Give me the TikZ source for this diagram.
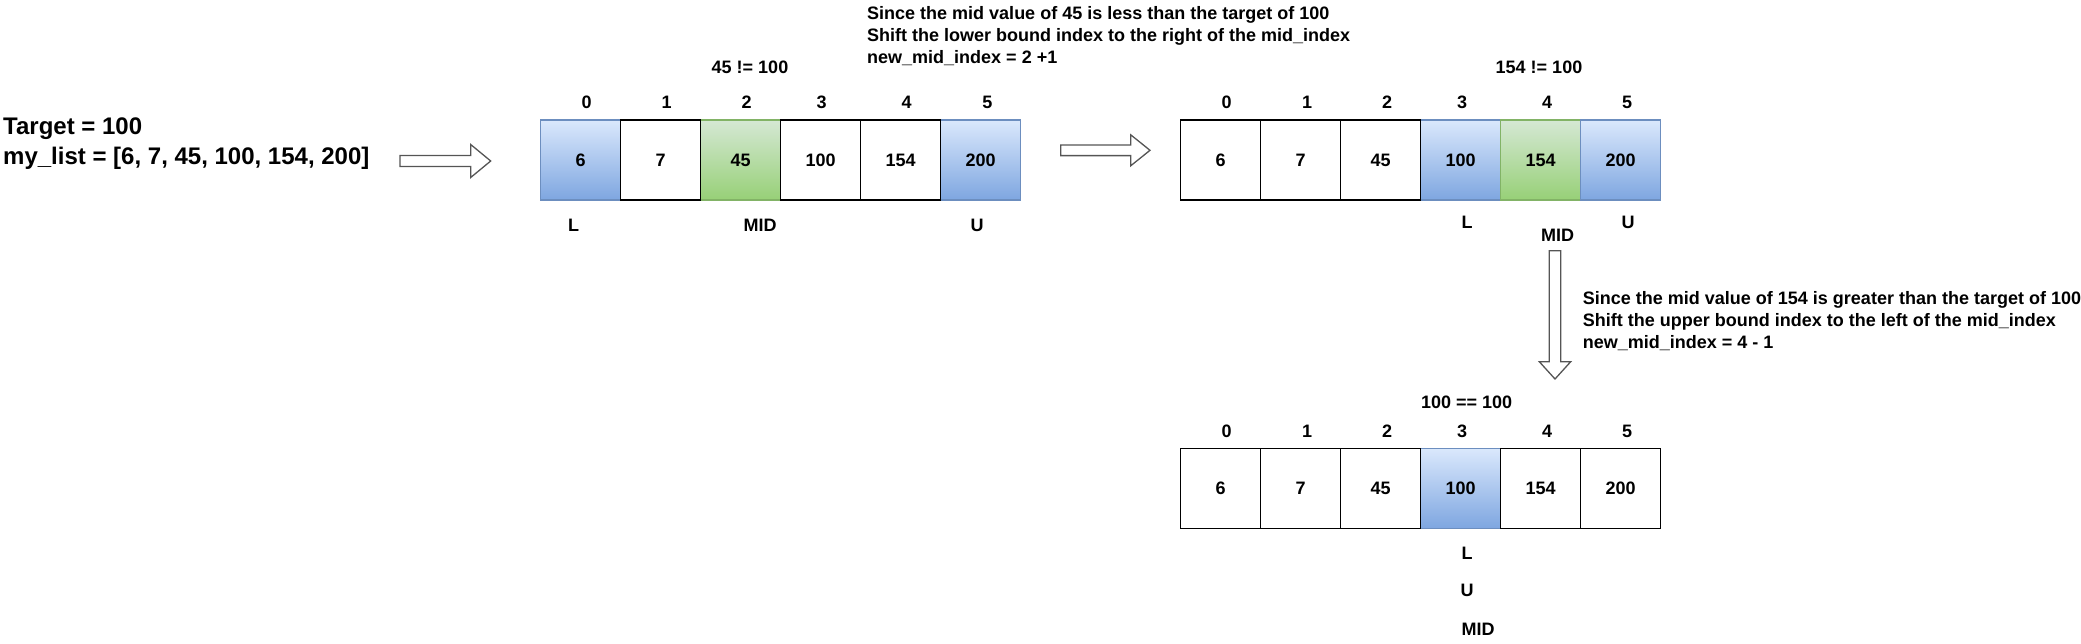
\documentclass[tikz,border=0pt]{standalone}
\usepackage{fontspec}
\setmainfont{Liberation Sans}
\definecolor{blueT}{HTML}{DAE8FC}
\definecolor{blueB}{HTML}{7EA6E0}
\definecolor{blueS}{HTML}{6C8EBF}
\definecolor{greenT}{HTML}{D5E8D4}
\definecolor{greenB}{HTML}{97D077}
\definecolor{greenS}{HTML}{82B366}
\definecolor{arrowS}{HTML}{555555}
\newcommand\FSm{\fontsize{18}{21.6}\selectfont\bfseries}
\newcommand\FBig{\fontsize{24}{29.8}\selectfont\bfseries}
\tikzset{
  cellw/.style={draw=black, fill=white, line width=1.3pt, minimum width=80pt, minimum height=80pt, inner sep=0pt, outer sep=0pt, font=\FSm},
  cellg/.style={cellw, draw=greenS, top color=greenT, bottom color=greenB},
  cellb/.style={cellw, draw=blueS, top color=blueT, bottom color=blueB},
  lbl/.style={inner sep=0pt, font=\FSm},
  note/.style={inner sep=0pt, font=\FSm, align=left, anchor=west},
  barrow/.style={draw=arrowS, fill=white, line width=1.3pt, line join=miter}
}
\begin{document}
\begin{tikzpicture}[x=1pt,y=-1pt]
\useasboundingbox (0,0) rectangle (2081,643);

% intro text
\node[inner sep=0pt, font=\FBig, align=left, anchor=west] (intro) at (3,144) {Target = 100\\my\_list = [6, 7, 45, 100, 154, 200]};

% arrow 1
\coordinate (a1s) at (400,161);
\coordinate (a1e) at (490.7,161);
\draw[barrow] ([yshift=-5.5pt]a1s) -- ([xshift=-20pt,yshift=-5.5pt]a1e) -- ([xshift=-20pt,yshift=-16.5pt]a1e) -- (a1e) -- ([xshift=-20pt,yshift=16.5pt]a1e) -- ([xshift=-20pt,yshift=5.5pt]a1e) -- ([yshift=5.5pt]a1s) -- cycle;

% ---------- array 1 ----------
\node[cellb] (p0) at (580.7,160) {6};
\node[cellg] (p2) at (740.7,160) {45};
\node[cellb] (p5) at (980.7,160) {200};
\node[cellw] (p1) at (660.7,160) {7};
\node[cellw] (p3) at (820.7,160) {100};
\node[cellw] (p4) at (900.7,160) {154};
\node[lbl] (pi0) at (586.7,102.5) {0};
\node[lbl] (pi1) at (666.7,102.5) {1};
\node[lbl] (pi2) at (746.7,102.5) {2};
\node[lbl] (pi3) at (821.7,102.5) {3};
\node[lbl] (pi4) at (906.7,102.5) {4};
\node[lbl] (pi5) at (987.3,102.5) {5};
\node[lbl] (pcmp) at (750,67) {45 != 100};
\node[lbl] (pL) at (573.5,225) {L};
\node[lbl] (pM) at (760,225) {MID};
\node[lbl] (pU) at (977,225) {U};

% note 1
\node[note] (n1) at (867,36) {Since the mid value of 45 is less than the target of 100\\Shift the lower bound index to the right of the mid\_index\\new\_mid\_index = 2 +1};

% arrow 2
\coordinate (a2s) at (1060.7,150.3);
\coordinate (a2e) at (1150,150.3);
\draw[barrow] ([yshift=-5.3pt]a2s) -- ([xshift=-19.3pt,yshift=-5.3pt]a2e) -- ([xshift=-19.3pt,yshift=-15.5pt]a2e) -- (a2e) -- ([xshift=-19.3pt,yshift=15.5pt]a2e) -- ([xshift=-19.3pt,yshift=5.3pt]a2e) -- ([yshift=5.3pt]a2s) -- cycle;

% ---------- array 2 ----------
\node[cellb] (q3) at (1460.7,160) {100};
\node[cellg] (q4) at (1540.7,160) {154};
\node[cellb] (q5) at (1620.7,160) {200};
\node[cellw] (q0) at (1220.7,160) {6};
\node[cellw] (q1) at (1300.7,160) {7};
\node[cellw] (q2) at (1380.7,160) {45};
\node[lbl] (qi0) at (1226.7,102.5) {0};
\node[lbl] (qi1) at (1307,102.5) {1};
\node[lbl] (qi2) at (1387,102.5) {2};
\node[lbl] (qi3) at (1462,102.5) {3};
\node[lbl] (qi4) at (1547,102.5) {4};
\node[lbl] (qi5) at (1627,102.5) {5};
\node[lbl] (qcmp) at (1539,67) {154 != 100};
\node[lbl] (qL) at (1467,222.5) {L};
\node[lbl] (qM) at (1557.7,235) {MID};
\node[lbl] (qU) at (1628,222.5) {U};

% down arrow (yshift is in page direction: positive = up)
\coordinate (a3s) at (1555,250.7);
\coordinate (a3e) at (1555,379);
\draw[barrow] ([xshift=-5.8pt]a3s) -- ([xshift=5.8pt]a3s) -- ([xshift=5.8pt,yshift=17.3pt]a3e) -- ([xshift=15.7pt,yshift=17.3pt]a3e) -- (a3e) -- ([xshift=-15.7pt,yshift=17.3pt]a3e) -- ([xshift=-5.8pt,yshift=17.3pt]a3e) -- cycle;

% note 2
\node[note] (n2) at (1582.7,321) {Since the mid value of 154 is greater than the target of 100\\Shift the upper bound index to the left of the mid\_index\\new\_mid\_index = 4 - 1};

% ---------- array 3 ----------
\node[cellb] (r3) at (1460.7,488.5) {100};
\node[cellw] (r0) at (1220.7,488.5) {6};
\node[cellw] (r1) at (1300.7,488.5) {7};
\node[cellw] (r2) at (1380.7,488.5) {45};
\node[cellw] (r4) at (1540.7,488.5) {154};
\node[cellw] (r5) at (1620.7,488.5) {200};
\node[lbl] (ri0) at (1226.7,431) {0};
\node[lbl] (ri1) at (1307,431) {1};
\node[lbl] (ri2) at (1387,431) {2};
\node[lbl] (ri3) at (1462,431) {3};
\node[lbl] (ri4) at (1547,431) {4};
\node[lbl] (ri5) at (1627,431) {5};
\node[lbl] (rcmp) at (1466.7,402) {100 == 100};
\node[lbl] (rL) at (1467,553) {L};
\node[lbl] (rU) at (1467,590) {U};
\node[lbl] (rM) at (1478,629) {MID};
\end{tikzpicture}
\end{document}
